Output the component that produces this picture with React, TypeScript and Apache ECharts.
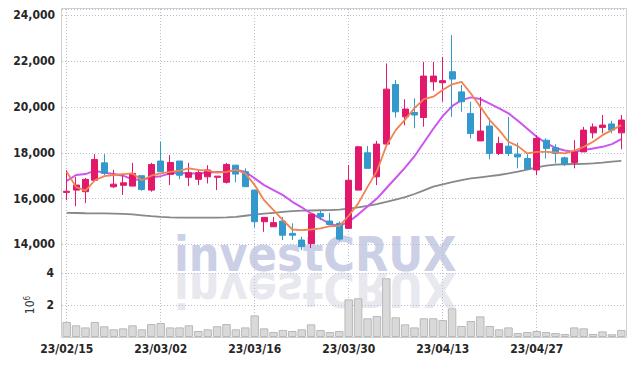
import React, { useEffect, useRef } from 'react';
import * as echarts from 'echarts';

const dates = [
  '23/02/15', '23/02/16', '23/02/17', '23/02/20', '23/02/21', '23/02/22', '23/02/23', '23/02/24', '23/02/27', '23/02/28',
  '23/03/02', '23/03/03', '23/03/06', '23/03/07', '23/03/08', '23/03/09', '23/03/10', '23/03/13', '23/03/14', '23/03/15',
  '23/03/16', '23/03/17', '23/03/20', '23/03/21', '23/03/22', '23/03/23', '23/03/24', '23/03/27', '23/03/28', '23/03/29',
  '23/03/30', '23/03/31', '23/04/03', '23/04/04', '23/04/05', '23/04/06', '23/04/07', '23/04/10', '23/04/11', '23/04/12',
  '23/04/13', '23/04/14', '23/04/17', '23/04/18', '23/04/19', '23/04/20', '23/04/21', '23/04/24', '23/04/25', '23/04/26',
  '23/04/27', '23/04/28', '23/05/02', '23/05/03', '23/05/04', '23/05/08', '23/05/09', '23/05/10', '23/05/11', '23/05/12',
];

const opens = [
  16270, 16370, 16300, 16800, 17560, 16515, 16580, 16545, 17000, 16370,
  17640, 17060, 17640, 16930, 16840, 16950, 16930, 16710, 17460, 17170,
  16370, 14990, 14770, 15020, 14480, 14190, 14040, 15350, 15020, 14920,
  14700, 16370, 18000, 16950, 18380, 20980, 19570, 19760, 19540, 21100,
  21060, 21540, 20660, 19720, 18520, 19170, 17970, 18290, 17940, 17750,
  17250, 18550, 18220, 17780, 17580, 18040, 18870, 19110, 19260, 18870,
];
const closes = [
  16320, 16590, 16840, 17710, 17100, 16630, 16690, 17100, 16400, 17490,
  17170, 17580, 17020, 17130, 17130, 17250, 16980, 17490, 17070, 16520,
  14990, 15180, 14950, 14400, 14400, 13900, 15320, 15200, 14870, 14230,
  16800, 18260, 17320, 18380, 20780, 19790, 19910, 19650, 21350, 21350,
  21150, 21220, 20230, 18840, 18950, 17970, 18410, 17970, 17820, 17290,
  18630, 18190, 17970, 17510, 18040, 18990, 19130, 19210, 18990, 19430,
];
const lows = [
  15930, 15670, 15800, 16780, 17030, 16460, 16160, 16545, 16340, 16300,
  17170, 16590, 16840, 16545, 16590, 16660, 16370, 16660, 16710, 16520,
  14740, 14550, 14770, 14190, 14190, 13750, 13840, 15060, 14840, 14160,
  14700, 16370, 17320, 16590, 18300, 19540, 19200, 19070, 19140, 20710,
  20230, 19570, 19790, 18630, 18520, 17710, 17900, 17860, 17320, 17270,
  17020, 17750, 17540, 17420, 17320, 18040, 18630, 18850, 18850, 18150,
];
const highs = [
  17240, 16940, 16900, 17940, 17940, 17250, 17020, 17560, 17000, 17560,
  18480, 17900, 17640, 17560, 17250, 17460, 16980, 17560, 17460, 17320,
  16370, 15180, 15200, 15200, 14920, 14330, 15320, 15470, 15380, 15000,
  17460, 18300, 18300, 18520, 21900, 21180, 20340, 20380, 21970, 21970,
  22190, 23140, 20960, 20230, 20440, 19520, 18700, 19570, 18440, 17970,
  18770, 18630, 18370, 17830, 18550, 19130, 19280, 19650, 19400, 19650,
];

const ma5 = [
  17170, 16500, 16350, 16800, 16980, 17030, 17070, 17100, 16800, 17000,
  17100, 17170, 17220, 17320, 17250, 17220, 17130, 17170, 17250, 17100,
  16590, 15930, 15500, 15060, 14650, 14620, 14650, 14700, 14800, 14800,
  15250, 15780, 16510, 17200, 18300, 18990, 19450, 19950, 20340, 20450,
  20740, 20990, 21100, 20590, 20010, 19430, 18990, 18480, 18290, 17970,
  18040, 18040, 18020, 17970, 18090, 18260, 18480, 18770, 18990, 19210,
];
const ma20 = [
  16770, 17030, 17070, 17220, 17130, 17070, 17000, 16840, 16810, 16930,
  16980, 17100, 17130, 17100, 17100, 17130, 17160, 17170, 17250, 17170,
  16880, 16590, 16370, 16150, 15860, 15620, 15350, 15130, 14890, 14800,
  14990, 15300, 15650, 16000, 16450, 16900, 17350, 17850, 18450, 19050,
  19600, 20040, 20300, 20420, 20350, 20150, 19940, 19720, 19400, 19050,
  18700, 18420, 18210, 18100, 18040, 18120, 18190, 18260, 18380, 18600,
];
const ma60 = [
  15380, 15370, 15360, 15355, 15350, 15345, 15335, 15310, 15270, 15230,
  15200, 15180, 15170, 15170, 15170, 15170, 15170, 15180, 15200, 15250,
  15300, 15340, 15380, 15420, 15450, 15470, 15480, 15490, 15500, 15520,
  15560, 15620, 15680, 15760, 15860, 15960, 16060, 16200, 16360, 16520,
  16620, 16720, 16810, 16880, 16930, 16980, 17030, 17100, 17180, 17270,
  17360, 17440, 17480, 17500, 17510, 17520, 17540, 17570, 17610, 17650,
];

// volume in millions of shares
const volumes = [
  0.94, 0.73, 0.6, 0.94, 0.67, 0.48, 0.54, 0.73, 0.48, 0.81,
  0.875, 0.6, 0.6, 0.73, 0.375, 0.48, 0.67, 0.81, 0.48, 0.6,
  1.35, 0.54, 0.31, 0.44, 0.375, 0.48, 0.79, 0.44, 0.31, 0.375,
  2.35, 2.42, 1.17, 1.31, 3.67, 1.23, 0.79, 0.6, 1.17, 1.17,
  1.06, 1.79, 0.69, 1.0, 1.29, 0.69, 0.48, 0.6, 0.25, 0.31,
  0.375, 0.31, 0.25, 0.19, 0.6, 0.54, 0.19, 0.35, 0.17, 0.44,
];

const UP = '#e2186b';
const DOWN = '#3399cc';
const FONT = "'DejaVu Sans Condensed', 'Liberation Sans Narrow', sans-serif";
const LABEL = { color: '#262626', fontSize: 12, fontFamily: FONT, fontWeight: 'bold' as const };
const GRIDLINE = { show: true, lineStyle: { type: [1, 2] as any, color: '#b9bdd2', width: 1 } };
const WM_FONT = "bold 48px 'DejaVu Sans Condensed', 'DejaVu Sans', sans-serif";

export default function App() {
  const ref = useRef<HTMLDivElement>(null);
  useEffect(() => {
    if (!ref.current) return;
    const chart = echarts.init(ref.current, undefined, { renderer: 'svg' });
    const candles = dates.map((_, i) => [opens[i], closes[i], lows[i], highs[i]]);
    const xSplit = { ...GRIDLINE, interval: 9, alignWithLabel: true };
    chart.setOption({
      animation: false,
      backgroundColor: '#ffffff',
      grid: [
        { left: 62, right: 9, top: 9, height: 264 },
        { left: 62, right: 9, top: 273, height: 64 },
      ],
      xAxis: [
        {
          type: 'category', gridIndex: 0, data: dates, boundaryGap: true,
          axisLine: { show: false }, axisTick: { show: false }, axisLabel: { show: false },
          splitLine: xSplit,
        },
        {
          type: 'category', gridIndex: 1, data: dates, boundaryGap: true,
          axisLine: { show: false }, axisTick: { show: false },
          axisLabel: { ...LABEL, interval: 9, margin: 6 },
          splitLine: xSplit,
        },
      ],
      yAxis: [
        {
          type: 'value', gridIndex: 0, min: 12750, max: 24280, scale: true,
          axisLine: { show: false }, axisTick: { show: false },
          axisLabel: {
            ...LABEL, margin: 7,
            showMinLabel: false, showMaxLabel: false,
            formatter: (v: number) => v.toLocaleString('en-US'),
          },
          splitLine: GRIDLINE,
        },
        {
          type: 'value', gridIndex: 1, min: 0, max: 4, interval: 2,
          axisLine: { show: false }, axisTick: { show: false },
          axisLabel: { ...LABEL, margin: 8, showMinLabel: false },
          splitLine: GRIDLINE,
          name: '10{sup|6}', nameLocation: 'middle', nameRotate: 90, nameGap: 24,
          nameTextStyle: {
            color: '#333', fontSize: 12, fontFamily: FONT,
            rich: { sup: { fontSize: 8, verticalAlign: 'top', color: '#333', fontFamily: FONT } },
          },
        },
      ],
      graphic: [
        {
          type: 'text', x: 174, y: 254, z: -5, silent: true,
          style: { text: 'investCRUX', font: WM_FONT, fill: '#cbd0e6', verticalAlign: 'middle', align: 'left' },
        },
        {
          type: 'group', x: 174, y: 272, scaleY: -1, z: -5, silent: true,
          children: [
            {
              type: 'text', x: 0, y: -18, z: -5,
              style: { text: 'investCRUX', font: WM_FONT, fill: '#e8e8ef', verticalAlign: 'middle', align: 'left' },
            },
          ],
        },
        {
          type: 'rect', x: 61.5, y: 8.5, z: 10, silent: true,
          shape: { width: 565, height: 329 },
          style: { fill: 'none', stroke: '#cfcfcf', lineWidth: 1 },
        },
      ],
      series: [
        {
          type: 'bar', xAxisIndex: 1, yAxisIndex: 1, data: volumes, barCategoryGap: '10%',
          itemStyle: { color: '#d9d9d9', borderColor: '#b8b8b8', borderWidth: 1 },
        },
        {
          type: 'line', xAxisIndex: 0, yAxisIndex: 0, data: ma60, showSymbol: false,
          lineStyle: { color: '#888888', width: 1.8 }, z: 3,
        },
        {
          type: 'line', xAxisIndex: 0, yAxisIndex: 0, data: ma20, showSymbol: false,
          lineStyle: { color: '#cc55ee', width: 2 }, z: 3,
        },
        {
          type: 'candlestick', xAxisIndex: 0, yAxisIndex: 0, data: candles, barWidth: '70%',
          itemStyle: { color: UP, color0: DOWN, borderColor: UP, borderColor0: DOWN, borderWidth: 1 },
          z: 4,
        },
        {
          type: 'line', xAxisIndex: 0, yAxisIndex: 0, data: ma5, showSymbol: false,
          lineStyle: { color: '#f0834f', width: 1.8 }, z: 5,
        },
      ],
    });
    return () => chart.dispose();
  }, []);
  return <div ref={ref} style={{ position: 'fixed', left: 0, top: 0, width: 635, height: 366 }} />;
}
